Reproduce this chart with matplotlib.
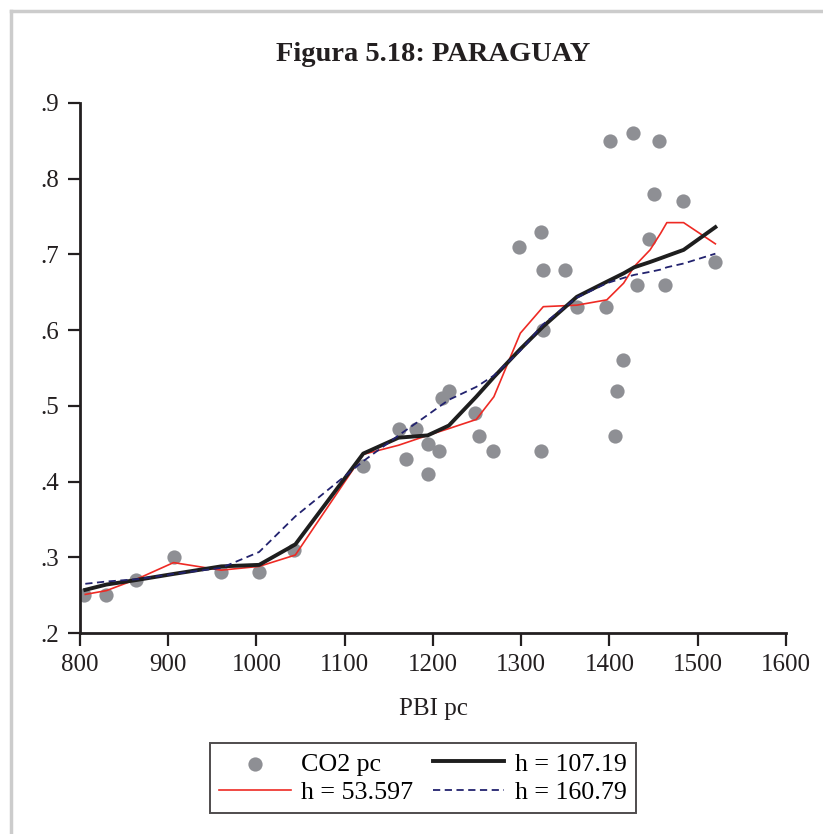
import matplotlib
matplotlib.use("Agg")
import matplotlib.pyplot as plt
from matplotlib.lines import Line2D
from matplotlib.ticker import FuncFormatter

# PBI pc vs CO2 pc observations
pbi_pc = [805, 830, 864, 906, 960, 1003, 1043, 1121, 1161, 1169, 1181,
          1194, 1194, 1207, 1210, 1218, 1248, 1252, 1268, 1298, 1322,
          1322, 1325, 1325, 1350, 1363, 1396, 1401, 1406, 1409, 1415,
          1427, 1431, 1445, 1451, 1456, 1463, 1483, 1520]
co2_pc = [0.25, 0.25, 0.27, 0.30, 0.28, 0.28, 0.31, 0.42, 0.47, 0.43, 0.47,
          0.45, 0.41, 0.44, 0.51, 0.52, 0.49, 0.46, 0.44, 0.71, 0.73,
          0.44, 0.68, 0.60, 0.68, 0.63, 0.63, 0.85, 0.46, 0.52, 0.56,
          0.86, 0.66, 0.72, 0.78, 0.85, 0.66, 0.77, 0.69]

# kernel fits for three bandwidths
fit_x = [806, 830, 864, 906, 960, 1003, 1044, 1121, 1161, 1194, 1218,
         1249, 1269, 1299, 1325, 1363, 1397, 1416, 1428, 1446, 1458,
         1465, 1484, 1520]
fit_h1 = [0.251, 0.256, 0.271, 0.293, 0.283, 0.288, 0.303, 0.436, 0.448,
          0.461, 0.470, 0.482, 0.512, 0.596, 0.631, 0.633, 0.640, 0.662,
          0.684, 0.706, 0.728, 0.742, 0.742, 0.714]
fit_h2 = [0.257, 0.264, 0.270, 0.278, 0.288, 0.290, 0.317, 0.437, 0.458,
          0.461, 0.474, 0.512, 0.538, 0.575, 0.605, 0.644, 0.664, 0.675,
          0.683, 0.690, 0.695, 0.698, 0.706, 0.736]
fit_h3 = [0.265, 0.268, 0.271, 0.278, 0.286, 0.307, 0.354, 0.427, 0.461,
          0.488, 0.508, 0.525, 0.540, 0.573, 0.608, 0.643, 0.662, 0.669,
          0.673, 0.677, 0.680, 0.683, 0.688, 0.701]

fit_labels = ["h = 53.597", "h = 107.19", "h = 160.79"]
x_ticks = [800, 900, 1000, 1100, 1200, 1300, 1400, 1500, 1600]
y_ticks = [0.2, 0.3, 0.4, 0.5, 0.6, 0.7, 0.8, 0.9]

plt.rcParams["font.family"] = ["Liberation Serif", "DejaVu Serif"]

fig = plt.figure(figsize=(8.23, 8.34), dpi=100)
ax = fig.add_axes([0.0972, 0.241, 0.8578, 0.6355])

pts = ax.scatter(pbi_pc, co2_pc, s=105, color="#8e8f94", linewidths=0,
                 zorder=2, label="CO2 pc")
l1, = ax.plot(fit_x, fit_h1, color="#ee2a24", lw=1.2, zorder=3,
              label=fit_labels[0])
l2, = ax.plot(fit_x, fit_h2, color="#1e1e1e", lw=2.8, zorder=4,
              label=fit_labels[1])
l3, = ax.plot(fit_x, fit_h3, color="#22226e", lw=1.3, ls=(0, (4, 2.5)),
              zorder=5, label=fit_labels[2])

ax.set_xlim(800, 1600)
ax.set_ylim(0.2, 0.9)
ax.set_xticks(x_ticks)
ax.set_yticks(y_ticks)
ax.yaxis.set_major_formatter(FuncFormatter(lambda v, p: f"{v:.1f}".lstrip("0")))
ax.tick_params(direction="out", length=9, width=1.6, labelsize=18,
               colors="#231f20", pad=6)
for side in ["top", "right"]:
    ax.spines[side].set_visible(False)
for side in ["left", "bottom"]:
    ax.spines[side].set_linewidth(2)
    ax.spines[side].set_color("#231f20")

ax.set_xlabel("PBI pc", fontsize=18, color="#231f20", labelpad=16)
ax.set_title("Figura 5.18: PARAGUAY", fontsize=20.5, fontweight="bold",
             color="#231f20", pad=30)

leg = fig.legend([pts, l1, l2, l3],
                 ["CO2 pc", fit_labels[0], fit_labels[1], fit_labels[2]],
                 ncol=2, loc="center", bbox_to_anchor=(0.514, 0.067),
                 fontsize=18.7, frameon=True, fancybox=False,
                 edgecolor="#231f20", handlelength=2.75, columnspacing=0.75,
                 handletextpad=0.4, borderpad=0.36, labelspacing=0.2,
                 borderaxespad=0)
leg.get_frame().set_linewidth(1.4)

# light gray page border
fig.add_artist(Line2D([11 / 823, 11 / 823], [0, 1 - 11 / 834],
                      transform=fig.transFigure, color="#cccccc", lw=2.5))
fig.add_artist(Line2D([11 / 823, 1], [1 - 11 / 834, 1 - 11 / 834],
                      transform=fig.transFigure, color="#cccccc", lw=2.5))

fig.savefig("out.png", dpi=100)
